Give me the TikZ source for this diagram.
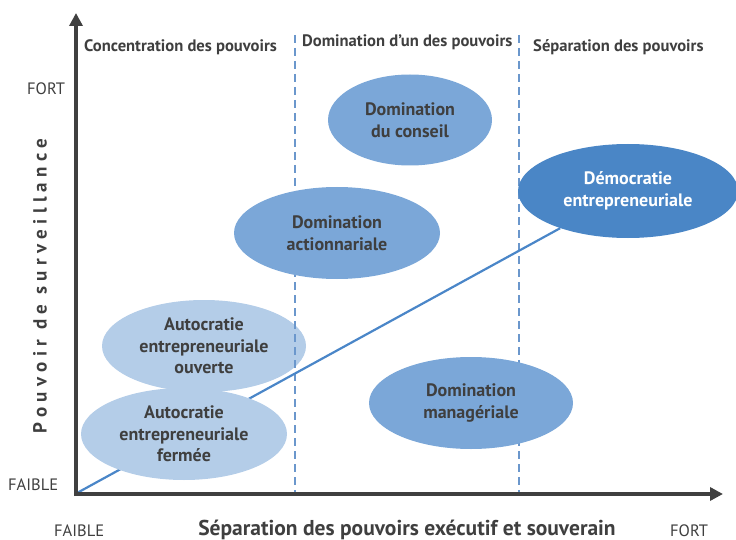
\documentclass[tikz,border=0pt]{standalone}
\usepackage{fontspec}
\setmainfont{PT Sans}
\usetikzlibrary{shapes.geometric,arrows.meta}
\definecolor{axisc}{HTML}{404040}
\definecolor{txtc}{HTML}{3F3F3F}
\definecolor{medb}{HTML}{7BA7D8}
\definecolor{darkb}{HTML}{4A86C6}
\definecolor{lightb}{HTML}{B4CDE8}
\definecolor{dashc}{HTML}{6B97CC}
\definecolor{diagc}{HTML}{4A86C8}
\begin{document}
\begin{tikzpicture}[x=1pt,y=-1pt,
  ell/.style={ellipse,inner sep=0pt,align=center,font=\bfseries\fontsize{18}{21.5}\selectfont,text=txtc},
  axisline/.style={line width=4pt,draw=axisc,-{Triangle[length=13pt,width=13pt]}},
  sep/.style={draw=dashc,line width=1.1pt,dash pattern=on 8pt off 5pt},
  head/.style={font=\bfseries\fontsize{16.6}{18}\selectfont,text=txtc,anchor=base west,inner sep=0pt},
  tick/.style={font=\fontsize{16.5}{18}\selectfont,text=txtc,inner sep=0pt,anchor=base west}]
\useasboundingbox (0,0) rectangle (736,540);
% bottom layer ellipse
\node[ell,fill=lightb,minimum width=204pt,minimum height=92pt] (ouv) at (204,346) {Autocratie\\entrepreneuriale\\ouverte};
% separators
\coordinate (s1t) at (295,35); \coordinate (s1b) at (295,494);
\coordinate (s2t) at (519,35); \coordinate (s2b) at (519,494);
\draw[sep] (s1t) -- (s1b);
\draw[sep] (s2t) -- (s2b);
% diagonal
\coordinate (o) at (77,493);
\node[ell,fill=darkb,text=white,minimum width=220pt,minimum height=94pt] (dem) at (628,191) {Démocratie\\entrepreneuriale};
\draw[diagc,line width=2.2pt] (o) -- (dem);
% ellipses
\node[ell,fill=lightb,minimum width=206pt,minimum height=92pt] (fer) at (184,434) {Autocratie\\entrepreneuriale\\fermée};
\node[ell,fill=medb,minimum width=164pt,minimum height=91pt] (cons) at (410,120) {Domination\\du conseil};
\node[ell,fill=medb,minimum width=206pt,minimum height=92pt] (act) at (337,233) {Domination\\actionnariale};
\node[ell,fill=medb,minimum width=204pt,minimum height=92pt] (man) at (471,403) {Domination\\managériale};
% axes
\coordinate (yb) at (76,496); \coordinate (yt) at (76,13);
\coordinate (xl) at (74,494); \coordinate (xr) at (723,494);
\draw[axisline] (yb) -- (yt);
\draw[axisline] (xl) -- (xr);
% headings
\node[head] (h1) at (84,52) {Concentration des pouvoirs};
\node[head] (h2) at (302,47) {Domination d'un des pouvoirs};
\node[head] (h3) at (533,52) {Séparation des pouvoirs};
% ticks
\node[tick] (yf) at (27,95) {FORT};
\node[tick] (yl) at (8,490) {FAIBLE};
\node[tick] (xfl) at (54,536) {FAIBLE};
\node[tick] (xfr) at (670,536) {FORT};
% axis titles
\node[font=\bfseries\fontsize{21.5}{22}\selectfont,text=txtc,inner sep=0pt,anchor=base] (xt) at (407,535) {Séparation des pouvoirs exécutif et souverain};
\node[font=\bfseries\fontsize{19}{20}\selectfont\addfontfeature{LetterSpace=28},text=txtc,inner sep=0pt,rotate=90] (yt2) at (40,286) {Pouvoir de surveillance};
\end{tikzpicture}
\end{document}
